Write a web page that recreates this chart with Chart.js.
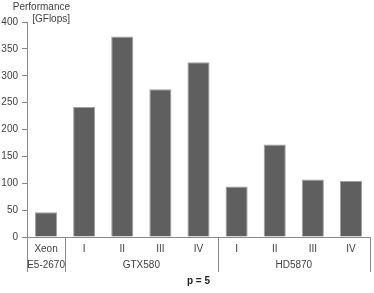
<!DOCTYPE html>
<html lang="en">
<head>
<meta charset="UTF-8">
<title>Performance p = 5</title>
<script src="https://cdn.jsdelivr.net/npm/chart.js"></script>
<style>
  html, body { margin: 0; padding: 0; background: #fff; }
  #wrap { width: 374px; height: 293px; }
</style>
</head>
<body>
<div id="wrap"><canvas id="myChart" width="374" height="293"></canvas></div>
<script>
// categories (first label row) and their groups (second label row)
const categories = ['Xeon', 'I', 'II', 'III', 'IV', 'I', 'II', 'III', 'IV'];
const groupLabels = ['E5-2670', 'GTX580', 'HD5870'];
const groupSizes = [1, 4, 4];
// GFlops per bar
const performance = [46, 242, 373, 275, 325, 94, 172, 107, 104];
const yTicks = [0, 50, 100, 150, 200, 250, 300, 350, 400];

const textColor = '#404040';
const axisColor = '#888888';
const baseFont = { family: 'Liberation Sans', size: 10 };

// second level of the category axis + separators, and the unit label
const groupAxis = {
  id: 'groupAxis',
  afterDraw(chart) {
    const ctx = chart.ctx;
    const x = chart.scales.x;
    const area = chart.chartArea;
    const half = (x.getPixelForValue(1) - x.getPixelForValue(0)) / 2;
    const lineBottom = area.bottom + 35;
    ctx.save();
    ctx.strokeStyle = axisColor;
    ctx.lineWidth = 1;
    ctx.fillStyle = textColor;
    ctx.font = '10px "Liberation Sans"';
    ctx.textAlign = 'center';
    ctx.textBaseline = 'middle';
    let start = 0;
    const edges = [x.getPixelForValue(0) - half];
    groupSizes.forEach((n, g) => {
      const left = x.getPixelForValue(start) - half;
      const right = x.getPixelForValue(start + n - 1) + half;
      edges.push(right);
      ctx.fillText(groupLabels[g], (left + right) / 2, area.bottom + 28);
      start += n;
    });
    edges.forEach(px => {
      const p = Math.round(px) + 0.5;
      ctx.beginPath();
      ctx.moveTo(p, area.bottom);
      ctx.lineTo(p, lineBottom);
      ctx.stroke();
    });
    // y unit label at the top left
    ctx.textAlign = 'right';
    ctx.fillText('Performance', 70, 7);
    ctx.fillText('[GFlops]', 70, 19);
    ctx.restore();
  }
};

const ctx = document.getElementById('myChart').getContext('2d');
new Chart(ctx, {
  type: 'bar',
  data: {
    labels: categories,
    datasets: [{
      data: performance,
      backgroundColor: '#5f5f5f',
      borderColor: '#a0a0a0',
      borderWidth: 1,
      barPercentage: 0.58,
      categoryPercentage: 1
    }]
  },
  options: {
    responsive: false,
    animation: false,
    layout: { padding: { top: 22, right: 4, left: 0, bottom: 0 } },
    plugins: { legend: { display: false }, tooltip: { enabled: false } },
    scales: {
      y: {
        min: 0,
        max: 400,
        afterFit(scale) { scale.width = 27; },
        afterBuildTicks(scale) { scale.ticks = yTicks.map(v => ({ value: v })); },
        grid: { display: true, drawOnChartArea: false, drawTicks: true, tickLength: 5, color: axisColor },
        border: { display: true, color: axisColor, width: 1 },
        ticks: { color: textColor, font: baseFont, padding: 4 }
      },
      x: {
        afterFit(scale) { scale.height = 56; },
        grid: { display: false, drawTicks: false },
        border: { display: true, color: axisColor, width: 1 },
        ticks: { color: textColor, font: baseFont, padding: 6, maxRotation: 0, autoSkip: false },
        title: {
          display: true,
          text: 'p = 5',
          color: '#222',
          font: { family: 'Liberation Sans', size: 10, weight: 'bold' },
          padding: { top: 0, bottom: 6 }
        }
      }
    }
  },
  plugins: [groupAxis]
});
</script>
</body>
</html>
